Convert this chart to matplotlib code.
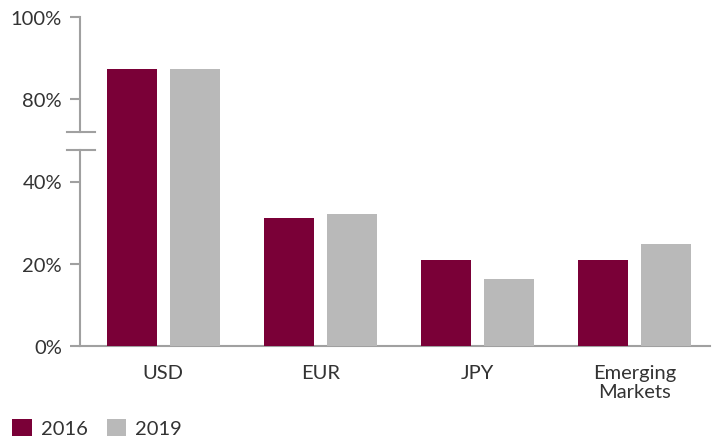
import numpy as np
import matplotlib
matplotlib.use("Agg")
import matplotlib.pyplot as plt
from matplotlib.patches import Patch
from matplotlib.lines import Line2D

categories = ["USD", "EUR", "JPY", "Emerging\nMarkets"]
series_names = ["2016", "2019"]
values_2016 = [87.3, 31.2, 21.0, 21.0]
values_2019 = [87.3, 32.2, 16.3, 24.9]
ytick_values = [0, 20, 40, 80, 100]
ytick_labels = ["0%", "20%", "40%", "80%", "100%"]

c2016 = "#7a0037"
c2019 = "#b9b9b9"
axis_color = "#a0a0a0"
text_color = "#333333"

plt.rcParams["font.family"] = ["Lato", "DejaVu Sans"]
FS = 14.5


def forward(v):
    v = np.asarray(v, dtype=float)
    return np.where(v <= 40, v, np.where(v >= 80, v - 20, 40 + (v - 40) / 2))


def backward(p):
    p = np.asarray(p, dtype=float)
    return np.where(p <= 40, p, np.where(p >= 60, p + 20, 40 + (p - 40) * 2))


fig = plt.figure(figsize=(7.14, 4.39), dpi=100)
ax = fig.add_axes([80 / 714, 1 - 347 / 439, 630 / 714, (347 - 18) / 439])
ax.set_yscale("function", functions=(forward, backward))

x = np.arange(len(categories))
w = 0.32
off = 0.2
ax.bar(x - off, values_2016, width=w, color=c2016, zorder=3)
ax.bar(x + off, values_2019, width=w, color=c2019, zorder=3)

ax.set_ylim(0, 100)
ax.set_xlim(-0.53, 3.48)
ax.set_yticks(ytick_values)
ax.set_yticklabels(ytick_labels)
ax.set_xticks(x)
ax.set_xticklabels(categories, linespacing=1.15)

for s in ["top", "right", "left"]:
    ax.spines[s].set_visible(False)
ax.spines["bottom"].set_color(axis_color)
ax.spines["bottom"].set_linewidth(1.5)

ax.tick_params(axis="y", length=7, width=1.5, color=axis_color, labelsize=FS,
               labelcolor=text_color, pad=6)
ax.tick_params(axis="x", length=0, labelsize=FS, labelcolor=text_color, pad=13)

# broken left spine
gap_lo = (347 - 151) / (347 - 18)
gap_hi = (347 - 133) / (347 - 18)
tr = ax.transAxes
for y0, y1 in [(0, gap_lo), (gap_hi, 1)]:
    ax.add_line(Line2D([0, 0], [y0, y1], transform=tr, color=axis_color,
                       lw=1.5, clip_on=False, zorder=4))
for yb in [gap_lo, gap_hi]:
    ax.add_line(Line2D([(67 - 80) / 630, (95 - 80) / 630], [yb, yb], transform=tr,
                       color=axis_color, lw=1.5, clip_on=False, zorder=4))

handles = [Patch(facecolor=c2016, label=series_names[0]),
           Patch(facecolor=c2019, label=series_names[1])]
fig.legend(handles=handles, loc="lower left", bbox_to_anchor=(-0.008, -0.04),
           ncol=2, frameon=False, fontsize=FS, handlelength=0.95,
           handleheight=0.95, handletextpad=0.45, columnspacing=0.95,
           labelcolor=text_color)

fig.savefig("out.png", dpi=100)
